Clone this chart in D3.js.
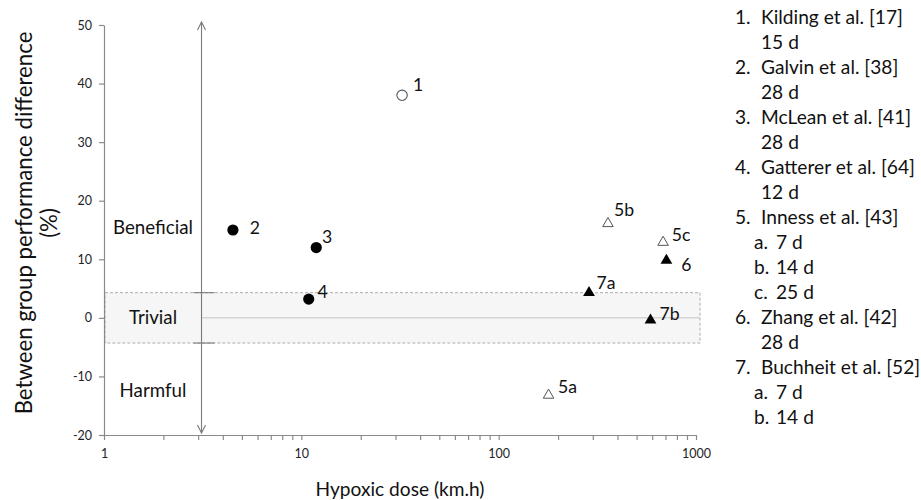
<!DOCTYPE html>
<html><head><meta charset="utf-8">
<script src="https://cdn.jsdelivr.net/npm/d3@7"></script>
<style>body{margin:0;background:#fff}svg{display:block}</style>
</head><body>
<svg id="c" width="921" height="500"></svg>
<script>
const pointLabels = ["1","2","3","4","5a","5b","5c","6","7a","7b"];
const doses = [32.4, 4.5, 11.9, 10.9, 179, 358, 681, 708, 287, 588];
const diffs = [38, 15, 12, 3.2, -13.2, 16.1, 12.9, 9.8, 4.3, -0.4];
const shapes = ["circle","circle","circle","circle","triangle","triangle","triangle","triangle","triangle","triangle"];
const filled = [false,true,true,true,false,false,false,true,true,true];
const yTicks = [-20,-10,0,10,20,30,40,50];
const xMajor = [1,10,100,1000];
const trivialBand = [-4.3, 4.3];
const arrowDose = 3.12;
const zones = ["Beneficial","Trivial","Harmful"];
const zoneValues = [15.4, 0, -12.4];
const legendLines = [
  ["1.","Kilding et al. [17]"],["","15 d"],
  ["2.","Galvin et al.  [38]"],["","28 d"],
  ["3.","McLean et al. [41]"],["","28 d"],
  ["4.","Gatterer et al. [64]"],["","12 d"],
  ["5.","Inness et al. [43]"],["a.","7 d"],["b.","14 d"],["c.","25 d"],
  ["6.","Zhang et al. [42]"],["","28 d"],
  ["7.","Buchheit et al. [52]"],["a.","7 d"],["b.","14 d"]
];

const svg = d3.select("#c");
const font = "Lato, 'Open Sans', sans-serif";
const txtCol = "#111";
// font size that makes a sample string reach a target width
function fitSize(sample, target) {
  const t = svg.append("text").attr("font-family",font).attr("font-size",20).text(sample);
  const w = t.node().getComputedTextLength();
  t.remove();
  return 20*target/w;
}
const fsLegend = fitSize("Kilding et al. [17]", 142);
const fsYTitle = fitSize("Between group performance difference", 383);
const fsXTitle = fitSize("Hypoxic dose (km.h)", 169);
const fsZone = fitSize("Beneficial", 80);
const fsPoint = fitSize("5a", 19);
const fsTick = fitSize("1000", 29);

const x = d3.scaleLog().domain([1,1000]).range([104,696]);
const y = d3.scaleLinear().domain([-20,50]).range([435,25]);
const axisCol = "#8a8a8a";

// trivial band
svg.append("rect").attr("x", x(1)+1).attr("y", y(trivialBand[1]))
  .attr("width", x(1000)+4 - x(1)-1).attr("height", y(trivialBand[0]) - y(trivialBand[1]))
  .attr("fill","#f6f6f6").attr("stroke","#9a9a9a").attr("stroke-width",0.8).attr("stroke-dasharray","3,2");
// zero line
svg.append("line").attr("x1", x(arrowDose)).attr("x2", x(1000)+4).attr("y1", y(0)).attr("y2", y(0))
  .attr("stroke","#c4c4c4").attr("stroke-width",1);

// y axis
const yAxis = svg.append("g").attr("transform",`translate(${x(1)},0)`)
  .call(d3.axisLeft(y).tickValues(yTicks).tickSize(5).tickSizeOuter(0).tickPadding(7)
    .tickFormat(d => String(d)));
// x axis
const xTicks = [];
for (let d=1; d<1000; d*=10) for (let k=1;k<10;k++) xTicks.push(d*k);
xTicks.push(1000);
const xAxis = svg.append("g").attr("transform",`translate(0,${y(-20)})`)
  .call(d3.axisBottom(x).tickValues(xTicks).tickSize(5).tickSizeOuter(0).tickPadding(9)
    .tickFormat(d => xMajor.includes(d) ? String(d) : ""));
[yAxis,xAxis].forEach(g=>{
  g.selectAll("path,line").attr("stroke",axisCol).attr("stroke-width",1.2);
  g.selectAll("text").attr("font-family",font).attr("font-size",fsTick).attr("fill","#222");
});

// arrow
const ax = x(arrowDose);
svg.append("line").attr("x1",ax).attr("x2",ax).attr("y1",y(50)-3).attr("y2",y(-20)-2)
  .attr("stroke","#7a7a7a").attr("stroke-width",1.1);
[[y(50)-3,1],[y(-20)-2,-1]].forEach(([yy,dir])=>{
  svg.append("path").attr("d",`M${ax-4},${yy+8*dir} L${ax},${yy} L${ax+4},${yy+8*dir}`)
    .attr("fill","none").attr("stroke","#7a7a7a").attr("stroke-width",1.1);
});
trivialBand.forEach(v=>{
  svg.append("line").attr("x1",ax-8).attr("x2",ax+13).attr("y1",y(v)).attr("y2",y(v))
    .attr("stroke","#7a7a7a").attr("stroke-width",1.1);
});

// zone labels
zones.forEach((t,i)=>{
  svg.append("text").attr("x",153).attr("y",y(zoneValues[i])).attr("dy","0.35em")
    .attr("text-anchor","middle").attr("font-family",font).attr("font-size",fsZone).attr("fill",txtCol).text(t);
});

// points
const pts = pointLabels.map((l,i)=>({l, d:doses[i], v:diffs[i], s:shapes[i], f:filled[i]}));
pts.forEach(p=>{
  const cx = x(p.d), cy = y(p.v);
  if (p.s==="circle") {
    svg.append("circle").attr("cx",cx).attr("cy",cy).attr("r",p.f?5.6:5.2)
      .attr("fill",p.f?"#000":"#fff").attr("stroke",p.f?"#000":"#555").attr("stroke-width",p.f?0:1.1);
  } else {
    svg.append("path").attr("d", d3.symbol(d3.symbolTriangle, p.f?60:48)())
      .attr("transform",`translate(${cx},${cy})`)
      .attr("fill",p.f?"#000":"#fff").attr("stroke",p.f?"#000":"#555").attr("stroke-width",p.f?0:1);
  }
});
// label placement beside each marker (centre of label relative to marker)
const labOff = {"1":[16,-10],"2":[22,-2],"3":[11,-11],"4":[14,-7],"5a":[19,-8],"5b":[16,-14],"5c":[18,-7],"6":[20,4],"7a":[17,-10],"7b":[19,-6]};
pts.forEach(p=>{
  const o = labOff[p.l];
  svg.append("text").attr("x",x(p.d)+o[0]).attr("y",y(p.v)+o[1]).attr("dy","0.35em")
    .attr("text-anchor","middle")
    .attr("font-family",font).attr("font-size",fsPoint).attr("fill",txtCol).text(p.l);
});

// axis titles
svg.append("text").attr("x",400).attr("y",489).attr("dy","0.35em").attr("text-anchor","middle")
  .attr("font-family",font).attr("font-size",fsXTitle).attr("fill",txtCol).text("Hypoxic dose (km.h)");
const yt = svg.append("text").attr("transform","translate(0,223) rotate(-90)")
  .attr("text-anchor","middle").attr("font-family",font).attr("font-size",fsYTitle).attr("fill",txtCol);
yt.append("tspan").attr("x",0).attr("y",24).attr("dy","0.35em").text("Between group performance difference");
yt.append("tspan").attr("x",0).attr("y",49).attr("dy","0.35em").text("(%)");

// legend
legendLines.forEach((ln,i)=>{
  const yy = 17 + i*25;
  const sub = ln[0] && /[a-c]\./.test(ln[0]);
  const g = svg.append("g").attr("font-family",font).attr("font-size",fsLegend).attr("fill",txtCol);
  if (ln[0]) g.append("text").attr("x", sub?754:735).attr("y",yy).attr("dy","0.35em").text(ln[0]);
  g.append("text").attr("x", sub?776:761).attr("y",yy).attr("dy","0.35em").text(ln[1]);
});
</script>
</body></html>
